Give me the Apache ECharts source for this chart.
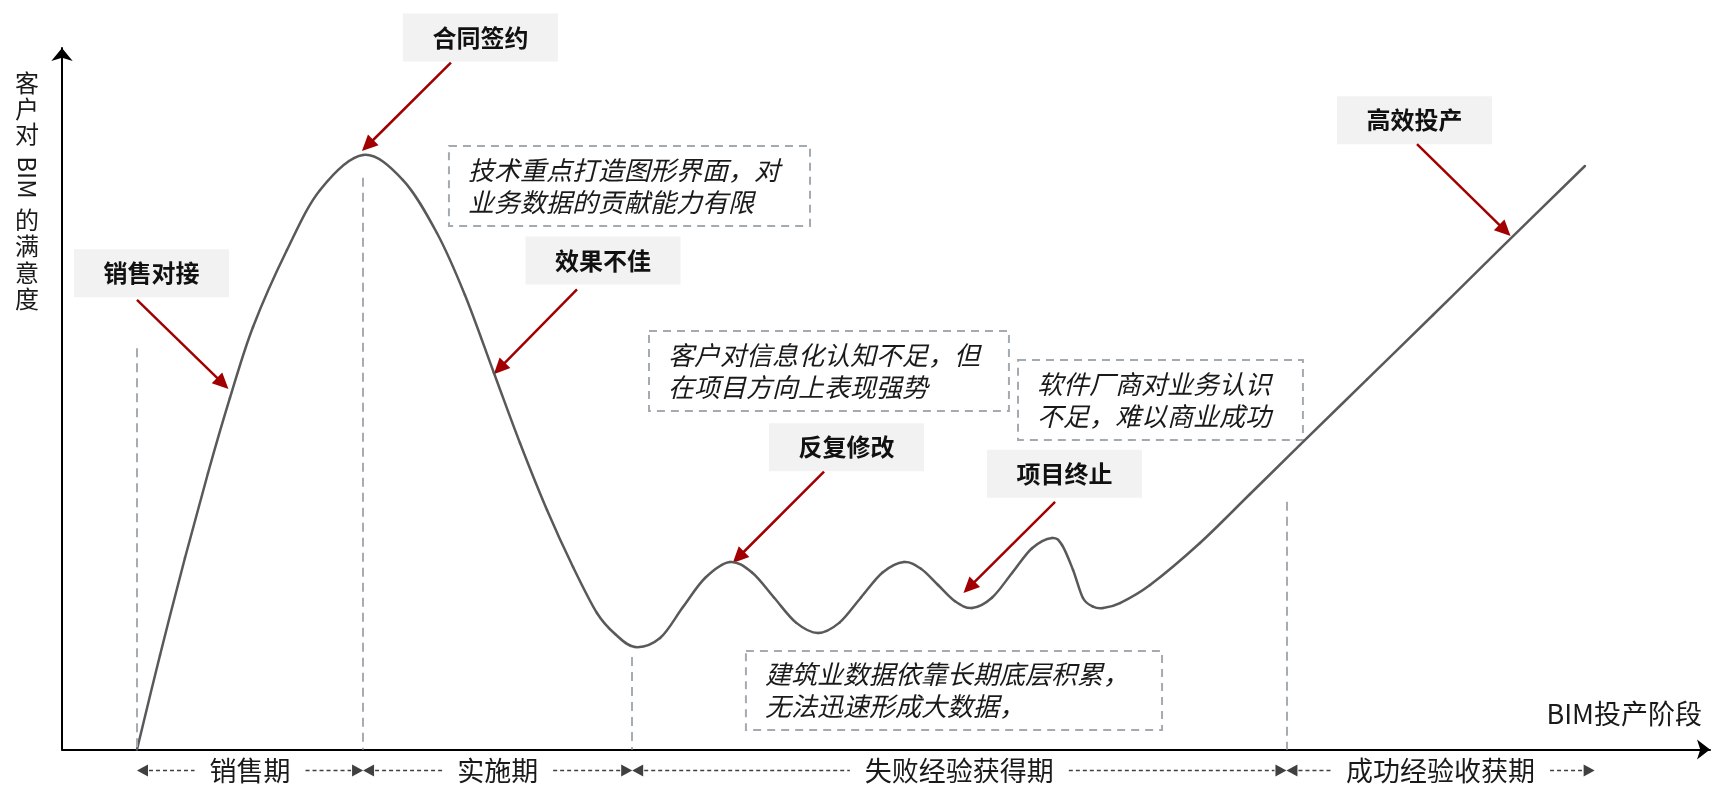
<!DOCTYPE html>
<html><head><meta charset="utf-8">
<script src="https://cdn.jsdelivr.net/npm/echarts@6/dist/echarts.min.js"></script>
<style>html,body{margin:0;padding:0;background:#fff}#c{width:1714px;height:785px}</style>
</head><body><div id="c"></div>
<script>
// ---- data (x: BIM投产阶段 progress 0-100, y: 满意度 0-100) ----
const curveX = [4.55, 5.95, 7.46, 8.86, 10.19, 11.59, 13.65, 15.66, 18.27, 20.69, 22.75, 24.45, 26.21, 27.79, 29.43, 31.01, 32.46, 33.56, 34.77, 36.29, 37.68, 39.02, 40.53, 41.87, 43.20, 44.54, 45.87, 47.18, 48.48, 49.79, 51.09, 52.12, 53.16, 54.19, 55.22, 56.43, 57.65, 58.86, 60.07, 60.68, 61.35, 61.95, 62.56, 63.17, 64.20, 66.02, 69.05, 72.09, 75.12, 79.19, 83.19, 87.26, 92.41];
const curveY = [0, 13.47, 27.30, 39.42, 50.11, 60.23, 71.20, 79.76, 84.75, 81.18, 73.63, 64.79, 53.67, 43.69, 34.14, 26.02, 19.46, 16.47, 14.61, 15.89, 20.31, 24.45, 26.73, 25.23, 21.67, 18.09, 16.61, 18.09, 21.67, 25.23, 26.73, 25.77, 23.45, 21.13, 20.17, 21.64, 25.16, 28.68, 30.15, 29.15, 25.59, 21.60, 20.38, 20.17, 20.88, 23.45, 29.44, 36.42, 43.41, 52.76, 61.94, 71.35, 83.18];
const stageX = [4.55, 18.27, 34.6, 74.3, 93.0];
const stageNames = ['销售期', '实施期', '失败经验获得期', '成功经验收获期'];
const boundaryTopY = [57.2, 81.5, 13.2, 35.3];
const calloutLabels = ['销售对接', '合同签约', '效果不佳', '反复修改', '项目终止', '高效投产'];
const calloutTargetX = [10.1, 18.2, 26.2, 40.7, 54.7, 87.9];
const calloutTargetY = [51.4, 85.3, 53.5, 26.6, 22.3, 73.2];
const noteLine1 = ['技术重点打造图形界面，对', '客户对信息化认知不足，但', '软件厂商对业务认识', '建筑业数据依靠长期底层积累，'];
const noteLine2 = ['业务数据的贡献能力有限', '在项目方向上表现强势', '不足，难以商业成功', '无法迅速形成大数据，'];
const yTitle = '客户对BIM的满意度';
const xTitle = 'BIM投产阶段';

// ---- layout (annotation placement, in axis units) ----
const calloutBoxX = [5.43, 25.39, 32.83, 47.60, 60.83, 82.07];
const calloutBoxY = [67.9, 101.5, 69.7, 43.1, 39.3, 89.7];
const calloutTailX = [4.55, 23.60, 31.25, 46.24, 60.26, 82.22];
const calloutTailY = [64.1, 97.9, 65.6, 39.6, 35.3, 86.3];
const noteX1 = [23.48, 35.62, 58.01, 41.50];
const noteY1 = [86.04, 59.66, 55.52, 14.04];
const noteX2 = [45.39, 57.46, 75.30, 66.75];
const noteY2 = [74.63, 48.25, 44.12, 2.78];

const FONT = '"Noto Sans CJK SC", "Noto Sans", sans-serif';
const RED = '#a20000';
const chart = echarts.init(document.getElementById('c'));
const axisCommon = {
  type: 'value', min: 0, max: 100,
  axisTick: {show: false}, axisLabel: {show: false}, splitLine: {show: false}
};
const N = curveX.length;
chart.setOption({
  animation: false,
  grid: {left: 62, right: 4, top: 48, bottom: 35.5},
  xAxis: Object.assign({}, axisCommon, {axisLine: {show: true, symbol: ['none', 'arrow'], symbolSize: [15, 13], lineStyle: {color: '#000', width: 2}}}),
  yAxis: Object.assign({}, axisCommon, {axisLine: {show: true, symbol: ['none', 'arrow'], symbolSize: [16, 13], lineStyle: {color: '#000', width: 2}}}),
  series: [{
    type: 'custom', silent: true, clip: false,
    data: curveX.map((x, i) => [x, curveY[i]]),
    encode: {x: 0, y: 1},
    renderItem: function (params, api) {
      const i = params.dataIndex;
      if (i >= N - 1) return null;
      const pt = k => { k = Math.max(0, Math.min(N - 1, k)); return api.coord([curveX[k], curveY[k]]); };
      const p0 = pt(i - 1), p1 = api.coord([api.value(0), api.value(1)]), p2 = pt(i + 1), p3 = pt(i + 2);
      return {
        type: 'bezierCurve',
        shape: {
          x1: p1[0], y1: p1[1], x2: p2[0], y2: p2[1],
          cpx1: p1[0] + (p2[0] - p0[0]) / 6, cpy1: p1[1] + (p2[1] - p0[1]) / 6,
          cpx2: p2[0] - (p3[0] - p1[0]) / 6, cpy2: p2[1] - (p3[1] - p1[1]) / 6
        },
        style: {stroke: '#595959', lineWidth: 2.5, fill: 'none', lineCap: 'round'}
      };
    },
    markLine: {
      silent: true, symbol: ['none', 'none'], label: {show: false},
      lineStyle: {color: '#a5adb3', type: [9, 6], width: 2},
      data: boundaryTopY.map((t, i) => [{coord: [stageX[i], t]}, {coord: [stageX[i], 0]}])
    }
  }]
});

const P = (x, y) => chart.convertToPixel({gridIndex: 0}, [x, y]);
const ctxM = document.createElement('canvas').getContext('2d');
function tw(t, f) { ctxM.font = f; return ctxM.measureText(t).width; }
const g = [];

function arrow(a, b, color, hl, hw, lw) {
  const dx = b[0] - a[0], dy = b[1] - a[1], L = Math.hypot(dx, dy);
  const ux = dx / L, uy = dy / L, nx = -uy, ny = ux;
  const bx = b[0] - ux * hl, by = b[1] - uy * hl;
  g.push({type: 'line', silent: true, shape: {x1: a[0], y1: a[1], x2: bx + ux * 2, y2: by + uy * 2}, style: {stroke: color, lineWidth: lw}});
  g.push({type: 'polygon', silent: true, shape: {points: [[b[0], b[1]], [bx + nx * hw, by + ny * hw], [bx - nx * hw, by - ny * hw]]}, style: {fill: color}});
}

// callouts
calloutLabels.forEach((t, i) => {
  const c = P(calloutBoxX[i], calloutBoxY[i]);
  g.push({type: 'rect', silent: true, shape: {x: c[0] - 77.5, y: c[1] - 24, width: 155, height: 48}, style: {fill: '#f2f2f2'}});
  g.push({type: 'text', silent: true, x: c[0], y: c[1], style: {text: t, font: 'bold 24px ' + FONT, fill: '#111', align: 'center', verticalAlign: 'middle'}});
  arrow(P(calloutTailX[i], calloutTailY[i]), P(calloutTargetX[i], calloutTargetY[i]), RED, 16, 7.5, 2.5);
});

// dashed note boxes
noteLine1.forEach((l1, i) => {
  const p1 = P(noteX1[i], noteY1[i]), p2 = P(noteX2[i], noteY2[i]);
  g.push({type: 'rect', silent: true, shape: {x: p1[0], y: p1[1], width: p2[0] - p1[0], height: p2[1] - p1[1]}, style: {fill: 'transparent', stroke: '#a3abb1', lineWidth: 2, lineDash: [8, 6]}});
  const cy = (p1[1] + p2[1]) / 2;
  [l1, noteLine2[i]].forEach((ln, j) => g.push({type: 'text', silent: true, x: p1[0] + 19, y: cy + (j - 0.5) * 32, style: {text: ln, font: 'italic 26px ' + FONT, fill: '#1a1a1a', align: 'left', verticalAlign: 'middle'}}));
});

// stage bar below the x axis
const axisY = P(0, 0)[1];
const sy = axisY + 21;
const sFont = '27px ' + FONT;
stageNames.forEach((name, i) => {
  const xs = P(stageX[i], 0)[0], xe = P(stageX[i + 1], 0)[0];
  const mid = (xs + xe) / 2, w = tw(name, sFont);
  g.push({type: 'polygon', silent: true, shape: {points: [[xs, sy], [xs + 11, sy - 6], [xs + 11, sy + 6]]}, style: {fill: '#404040'}});
  g.push({type: 'polygon', silent: true, shape: {points: [[xe, sy], [xe - 11, sy - 6], [xe - 11, sy + 6]]}, style: {fill: '#404040'}});
  g.push({type: 'line', silent: true, shape: {x1: xs + 12, y1: sy, x2: mid - w / 2 - 15, y2: sy}, style: {stroke: '#404040', lineWidth: 1.5, lineDash: [4, 3]}});
  g.push({type: 'line', silent: true, shape: {x1: mid + w / 2 + 15, y1: sy, x2: xe - 12, y2: sy}, style: {stroke: '#404040', lineWidth: 1.5, lineDash: [4, 3]}});
  g.push({type: 'text', silent: true, x: mid, y: sy, style: {text: name, font: sFont, fill: '#1a1a1a', align: 'center', verticalAlign: 'middle'}});
});

// x axis title
const xEnd = P(100, 0)[0];
g.push({type: 'text', silent: true, x: xEnd - 8, y: axisY - 36, style: {text: xTitle, font: '27px ' + FONT, fill: '#1a1a1a', align: 'right', verticalAlign: 'middle'}});

// y axis title (vertical, Latin rotated)
const yParts = [['客', 82.5], ['户', 108.5], ['对', 134], ['的', 220], ['满', 246], ['意', 272.5], ['度', 299]];
yParts.forEach(([ch, yy]) => g.push({type: 'text', silent: true, x: 27, y: yy, style: {text: ch, font: '24px ' + FONT, fill: '#1a1a1a', align: 'center', verticalAlign: 'middle'}}));
g.push({type: 'text', silent: true, x: 27, y: 177.5, rotation: -Math.PI / 2, style: {text: 'BIM', font: '24px ' + FONT, fill: '#1a1a1a', align: 'center', verticalAlign: 'middle'}});

chart.setOption({graphic: {elements: g}});
</script>
</body></html>
